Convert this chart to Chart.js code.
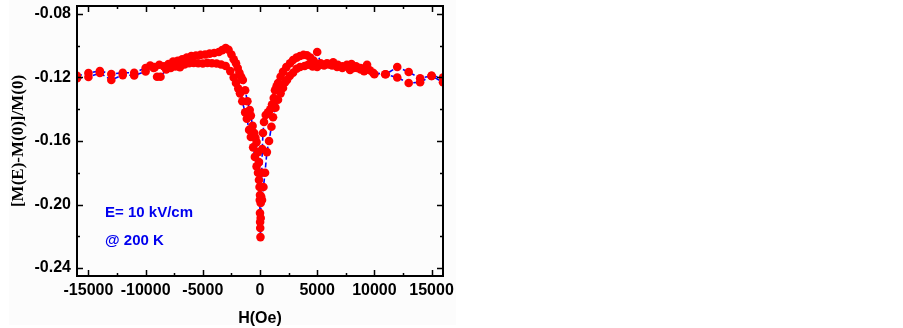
<!DOCTYPE html>
<html>
<head>
<meta charset="utf-8">
<script src="https://cdn.jsdelivr.net/npm/chart.js@4.4.1/dist/chart.umd.min.js"></script>
<style>
  html, body { margin: 0; padding: 0; background: #fff; }
  canvas { display: block; }
</style>
</head>
<body>
<canvas id="mePlot" width="903" height="328"></canvas>
<script>
// ---- data ----
// branch A: lower branch on both wings, outer flanks of the dip
const branchAField = [
  -16000, -15000, -14000, -13000, -12000, -11000, -10000, -9300, -9000, -8700,
  -8200, -7800, -7400, -7000, -6600, -6200, -5800, -5400, -5000, -4600,
  -4200, -3800, -3400, -3000, -2600, -2300, -2100, -1900, -1750, -1550,
  -1300, -1150, -950, -800, -600, -450, -300, -175, -90, -40,
  0, 60, 175, 300, 440, 600, 790, 1000, 1140, 1350,
  1575, 1800, 2010, 2200, 2360, 2600, 2890, 3200, 3500, 3900,
  4200, 4600, 5000, 5400, 5860, 6300, 6740, 7200, 7600, 7875,
  8200, 8490, 8800, 9100, 9360, 9890, 10940, 12000, 13000, 14000,
  15000, 16000
];
const branchAValue = [
  -0.1205, -0.1197, -0.1172, -0.1216, -0.1185, -0.1187, -0.1162, -0.1140, -0.1195, -0.1195,
  -0.1150, -0.1140, -0.1130, -0.1135, -0.1118, -0.1110, -0.1108, -0.1110, -0.1112, -0.1108,
  -0.1110, -0.1112, -0.1118, -0.1128, -0.1160, -0.1200, -0.1235, -0.1270, -0.1300, -0.1350,
  -0.1420, -0.1460, -0.1530, -0.1575, -0.1640, -0.1700, -0.1760, -0.1800, -0.1846, -0.1890,
  -0.1940, -0.1990, -0.1972, -0.1890, -0.1800, -0.1670, -0.1600, -0.1510, -0.1450, -0.1390,
  -0.1340, -0.1300, -0.1266, -0.1230, -0.1216, -0.1190, -0.1170, -0.1145, -0.1134, -0.1128,
  -0.1120, -0.1130, -0.1134, -0.1120, -0.1110, -0.1125, -0.1134, -0.1140, -0.1120, -0.1153,
  -0.1140, -0.1140, -0.1150, -0.1160, -0.1120, -0.1170, -0.1180, -0.1200, -0.1235, -0.1230,
  -0.1190, -0.1230
];
// branch B: upper branch on both wings, inner flanks, deepest point
const branchBField = [
  -16000, -15000, -14000, -13000, -12000, -11000, -10000, -9600, -9200, -8800,
  -8400, -8000, -7600, -7200, -6800, -6400, -6000, -5600, -5200, -4800,
  -4400, -4000, -3600, -3300, -3000, -2750, -2500, -2300, -2100, -1950,
  -1800, -1650, -1500, -1300, -1100, -900, -800, -650, -500, -400,
  -300, -175, -90, -50, -20, 0, 10, 20, 40, 60,
  100, 150, 200, 260, 350, 500, 700, 900, 1050, 1200,
  1310, 1450, 1575, 1800, 2010, 2300, 2625, 2890, 3200, 3500,
  3800, 4100, 4400, 4700, 5000, 5300, 5600, 6000, 6400, 6800,
  7200, 7600, 8000, 8400, 8800, 9200, 9600, 10000, 11000, 12000,
  13000, 14000, 15000, 16000
];
const branchBValue = [
  -0.1190, -0.1172, -0.1159, -0.1178, -0.1170, -0.1170, -0.1140, -0.1125, -0.1135, -0.1120,
  -0.1130, -0.1115, -0.1100, -0.1095, -0.1085, -0.1075, -0.1065, -0.1062, -0.1058, -0.1055,
  -0.1050, -0.1046, -0.1040, -0.1028, -0.1014, -0.1025, -0.1055, -0.1085, -0.1110, -0.1140,
  -0.1170, -0.1195, -0.1216, -0.1280, -0.1350, -0.1405, -0.1440, -0.1505, -0.1550, -0.1580,
  -0.1607, -0.1670, -0.1733, -0.1800, -0.1972, -0.2054, -0.2110, -0.2148, -0.2205, -0.2085,
  -0.1950, -0.1800, -0.1650, -0.1550, -0.1480, -0.1436, -0.1420, -0.1400, -0.1370, -0.1330,
  -0.1280, -0.1255, -0.1235, -0.1195, -0.1165, -0.1135, -0.1110, -0.1090, -0.1075, -0.1065,
  -0.1058, -0.1060, -0.1075, -0.1095, -0.1040, -0.1110, -0.1125, -0.1118, -0.1105, -0.1120,
  -0.1130, -0.1130, -0.1115, -0.1130, -0.1140, -0.1145, -0.1155, -0.1180, -0.1180, -0.1134,
  -0.1166, -0.1205, -0.1190, -0.1200
];

const xTickValues = [-15000, -10000, -5000, 0, 5000, 10000, 15000];
const xMinorValues = [-12500, -7500, -2500, 2500, 7500, 12500];
const yTickValues = [-0.24, -0.20, -0.16, -0.12, -0.08];
const yMinorValues = [-0.22, -0.18, -0.14, -0.10];
const noteLines = ['E= 10 kV/cm', '@ 200 K'];

const toPoints = (xs, ys) => xs.map((x, i) => ({ x: x, y: ys[i] }));
const branchA = toPoints(branchAField, branchAValue);
const branchB = toPoints(branchBField, branchBValue);

const sansBold = { family: '"Liberation Sans", Arial, sans-serif', size: 16, weight: 'bold' };

// frame, inward ticks, note text
const framePlugin = {
  id: 'frame',
  beforeDraw(chart) {
    const c = chart.ctx;
    c.save();
    c.fillStyle = '#fcfcfc';
    c.fillRect(9, 0, 447, 325);
    c.restore();
  },
  afterDatasetsDraw(chart) {
    const c = chart.ctx;
    const a = chart.chartArea;
    const xs = chart.scales.x, ys = chart.scales.y;
    c.save();
    c.strokeStyle = '#000';
    c.lineWidth = 2;
    c.strokeRect(a.left, a.top, a.right - a.left, a.bottom - a.top);
    c.lineWidth = 1.5;
    c.beginPath();
    const xt = (v, len) => {
      const p = Math.round(xs.getPixelForValue(v)) + 0.5;
      c.moveTo(p, a.bottom); c.lineTo(p, a.bottom - len);
      c.moveTo(p, a.top); c.lineTo(p, a.top + len);
    };
    const yt = (v, len) => {
      const p = Math.round(ys.getPixelForValue(v)) + 0.5;
      c.moveTo(a.left, p); c.lineTo(a.left + len, p);
      c.moveTo(a.right, p); c.lineTo(a.right - len, p);
    };
    xTickValues.forEach(v => xt(v, 6));
    xMinorValues.forEach(v => xt(v, 3));
    yTickValues.forEach(v => yt(v, 6));
    yMinorValues.forEach(v => yt(v, 3));
    c.stroke();

    c.fillStyle = '#0000ee';
    c.font = 'bold 15px "Liberation Sans", Arial, sans-serif';
    c.textBaseline = 'middle';
    c.textAlign = 'left';
    c.fillText(noteLines[0], a.left + 28, a.top + 207);
    c.fillText(noteLines[1], a.left + 28, a.top + 235);
    c.restore();
  }
};

new Chart(document.getElementById('mePlot'), {
  type: 'scatter',
  data: {
    datasets: [
      {
        label: 'A line', data: branchA, showLine: true, pointRadius: 0,
        borderColor: '#0000ff', borderWidth: 1.6, borderDash: [5, 3], order: 2
      },
      {
        label: 'B line', data: branchB, showLine: true, pointRadius: 0,
        borderColor: '#0000ff', borderWidth: 1.6, borderDash: [5, 3], order: 2
      },
      {
        label: 'A', data: branchA, showLine: false, pointRadius: 4.3,
        pointBackgroundColor: '#ff0000', pointBorderWidth: 0, order: 1
      },
      {
        label: 'B', data: branchB, showLine: false, pointRadius: 4.3,
        pointBackgroundColor: '#ff0000', pointBorderWidth: 0, order: 1
      }
    ]
  },
  options: {
    responsive: false,
    animation: false,
    layout: { padding: { top: 6, right: 460, left: 0, bottom: 0 } },
    plugins: {
      legend: { display: false },
      tooltip: { enabled: false }
    },
    scales: {
      x: {
        type: 'linear', min: -16000, max: 16000,
        grid: { display: false, drawTicks: false },
        border: { display: false },
        ticks: {
          font: sansBold, color: '#000', padding: 5, maxRotation: 0, autoSkip: false,
          callback: v => String(v)
        },
        afterBuildTicks: s => { s.ticks = xTickValues.map(v => ({ value: v })); },
        afterFit: s => { s.height = 52; s.paddingLeft = 0; s.paddingRight = 0; },
        title: {
          display: true, text: 'H(Oe)', color: '#000',
          font: sansBold, padding: { top: 0, bottom: 0 }
        }
      },
      y: {
        type: 'linear', min: -0.245, max: -0.075,
        grid: { display: false, drawTicks: false },
        border: { display: false },
        ticks: {
          font: sansBold, color: '#000', padding: 6, autoSkip: false,
          callback: v => v.toFixed(2)
        },
        afterBuildTicks: s => { s.ticks = yTickValues.map(v => ({ value: v })); },
        afterFit: s => { s.width = 77; s.paddingTop = 0; s.paddingBottom = 0; },
        title: {
          display: true, text: '[M(E)-M(0)]/M(0)', color: '#000',
          font: { family: '"Liberation Serif", "Times New Roman", serif', size: 17, weight: 'bold' },
          padding: { top: 8, bottom: 0 }
        }
      }
    }
  },
  plugins: [framePlugin]
});
</script>
</body>
</html>
